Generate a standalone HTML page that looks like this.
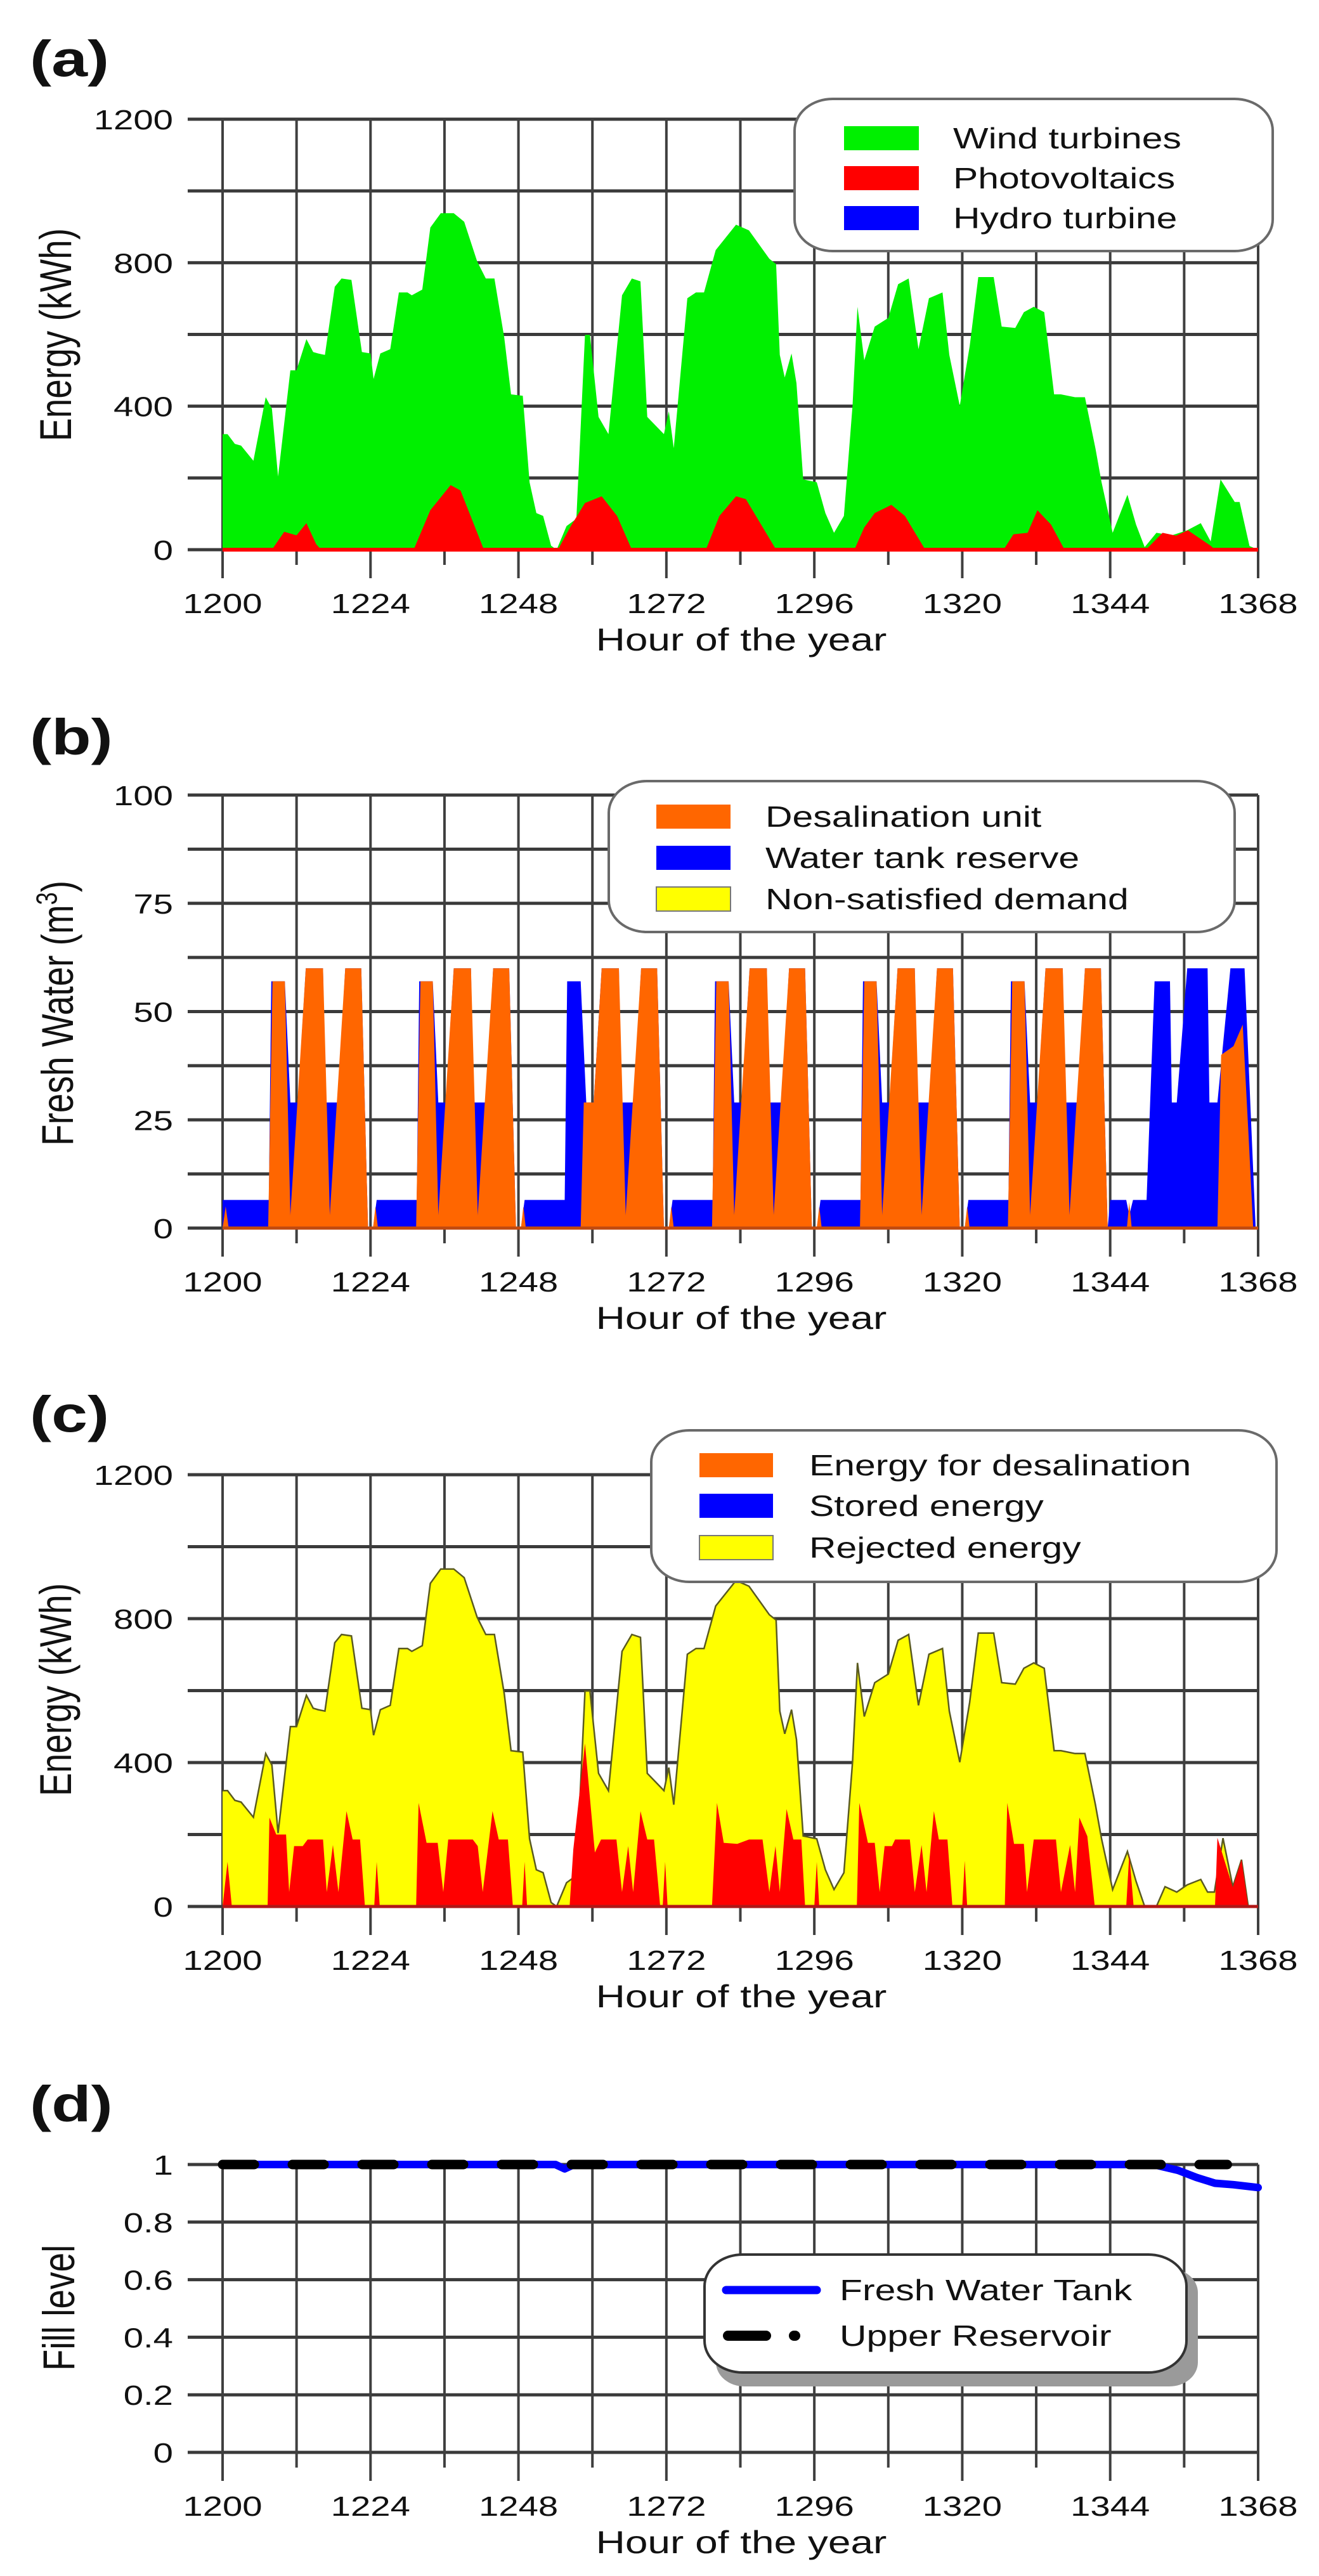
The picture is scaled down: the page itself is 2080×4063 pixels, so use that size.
<!DOCTYPE html>
<html><head><meta charset="utf-8"><title>Energy and water balance</title>
<style>html,body{margin:0;padding:0;background:#fff}svg{display:block}</style></head>
<body>
<svg id="fig" xmlns="http://www.w3.org/2000/svg" width="2080" height="4063" viewBox="0 0 2080 4063" font-family="Liberation Sans, Arial, sans-serif"></svg>
<script>
// ---------- DATA ----------
const tickHours = [1200,1224,1248,1272,1296,1320,1344,1368];
const energyTicks = [0,400,800,1200];
const waterTicks = [0,25,50,75,100];
const fillTicks = [0,0.2,0.4,0.6,0.8,1];
const fillTickLabels = ["0","0.2","0.4","0.6","0.8","1"];

// (a) wind turbines (stack top) and photovoltaics
const windHours = [1200,1200.8,1202,1203,1205,1207,1208,1209,1211,1212,
 1213.6,1214.7,1215.5,1216.6,1218.2,1219.3,1220.9,1222.6,1224,1224.5,
 1225.6,1227.2,1228.6,1230,1230.7,1232.4,1233.7,1235.4,1237.5,1239.2,
 1241.3,1242.7,1244.1,1245.7,1246.8,1248.7,1249.8,1250.9,1252,1253.3,
 1254.2,1255.8,1257.4,1258.8,1259.6,1261,1262.6,1264.8,1266.4,1267.8,
 1268.9,1271.6,1272.4,1273.2,1275.4,1276.8,1278.1,1280,1283.3,1285.4,
 1288.7,1289.8,1290.4,1291.2,1292.3,1293.1,1294.2,1296.4,1297.8,1299.2,
 1300.8,1302.2,1303,1304.1,1305.8,1308,1309.6,1311.3,1312.9,1314.6,
 1316.8,1317.9,1319.6,1321.2,1322.6,1325.1,1326.4,1328.6,1330,1331.6,
 1333.3,1334.9,1336,1338.3,1339.9,1341.6,1342.6,1344.4,1346.8,1348.2,
 1349.6,1351.5,1354,1356.5,1358.7,1360.3,1361.9,1364.2,1365,1366.6,
 1368];
const windValues = [322,322,295,290,248,425,393,204,500,500,
 587,551,547,543,733,756,752,551,547,476,
 547,559,717,717,709,725,898,938,938,914,
 804,756,756,591,433,429,188,102,94,11,
 0,66,86,599,599,370,322,709,756,748,
 370,322,386,283,701,717,717,835,906,890,
 811,796,543,480,547,464,196,188,102,47,
 94,401,677,528,622,646,740,756,559,701,
 717,543,401,567,760,760,622,618,662,677,
 662,433,433,425,425,283,188,47,153,70,
 7,47,40,54,74,23,196,133,133,10,
 0];
const pvHours = [1200,1208,1210,1212,1213.6,1215.2,1216,1231,1233.7,1237,1238.6,1242.4,
 1254.4,1256.5,1258.8,1261.5,1264,1266.4,1278.4,1280.6,1283.3,1284.9,1289.8,
 1302.5,1304.1,1305.8,1308.5,1310.7,1314,1326.7,1328.3,1330.6,1332.2,1334.4,1336.6,
 1349.8,1352.5,1354.7,1356.6,1360.3,1361,1368];
const pvValues = [0,0,50,40,74,15,0,0,110,180,165,0,
 0,66,130,149,94,0,0,94,149,141,0,
 0,62,102,125,94,0,0,43,47,110,70,0,
 0,47,39,54,11,0,0];

// (b) fresh water: total supplied (water tank reserve shows beneath) and desalination
const waterHours = [1200,
 1207.5,1207.9,1210.1,1211,1212.2,1213.5,1216.3,1216.7,1218.7,1219.9,1222.5,1223.6,1224.4,1225,
 1231.5,1231.9,1234.1,1235,1236.2,1237.5,1240.3,1240.7,1242.7,1243.9,1246.5,1247.6,1248.4,1249,
 1255.5,1255.9,1258.1,1259,1260.2,1261.5,1264.3,1264.7,1266.7,1267.9,1270.5,1271.6,1272.4,1273,
 1279.5,1279.9,1282.1,1283,1284.2,1285.5,1288.3,1288.7,1290.7,1291.9,1294.5,1295.6,1296.4,1297,
 1303.5,1303.9,1306.1,1307,1308.2,1309.5,1312.3,1312.7,1314.7,1315.9,1318.5,1319.6,1320.4,1321,
 1327.5,1327.9,1330.1,1331,1332.2,1333.5,1336.3,1336.7,1338.7,1339.9,1342.5,1343.6,1344,1346.6,1347.1,1347.7,
 1349.9,1351.2,1353.7,1354,1354.8,1356.5,1359.8,1360.1,1361.4,1363.5,1365.8,1367.6,1368];
const waterTotal = [6.5,
 6.5,57,57,29,29,60,60,29,29,60,60,0,0,6.5,
 6.5,57,57,29,29,60,60,29,29,60,60,0,0,6.5,
 6.5,57,57,29,29,60,60,29,29,60,60,0,0,6.5,
 6.5,57,57,29,29,60,60,29,29,60,60,0,0,6.5,
 6.5,57,57,29,29,60,60,29,29,60,60,0,0,6.5,
 6.5,57,57,29,29,60,60,29,29,60,60,0,6.5,6.5,3,6.5,
 6.5,57,57,29,29,60,60,29,29,60,60,0,0];
const desalHours = [1200,1200.5,1201,
 1207.4,1208.1,1210.1,1211,1213.5,1216.3,1217.4,1219.9,1222.5,1223.6,1224.4,1224.8,1225.2,
 1231.4,1232.1,1234.1,1235,1237.5,1240.3,1241.4,1243.9,1246.5,1247.6,1248.4,1248.8,1249.2,
 1258.1,1258.6,1260.2,1261.5,1264.3,1265.4,1267.9,1270.5,1271.6,1272.4,1272.8,1273.2,
 1279.4,1280.1,1282.1,1283,1285.5,1288.3,1289.4,1291.9,1294.5,1295.6,1296.4,1296.8,1297.2,
 1303.4,1304.1,1306.1,1307,1309.5,1312.3,1313.4,1315.9,1318.5,1319.6,1320.4,1320.8,1321.2,
 1327.4,1328.1,1330.1,1331,1333.5,1336.3,1337.4,1339.9,1342.5,1343.6,1346.7,1347.1,1347.5,
 1361.4,1362,1364,1365.5,1366.5,1367.2,1368];
const desalWater = [0,5,0,
 0,57,57,3,60,60,3,60,60,0,0,5,0,
 0,57,57,3,60,60,3,60,60,0,0,5,0,
 0,29,29,60,60,3,60,60,0,0,5,0,
 0,57,57,3,60,60,3,60,60,0,0,5,0,
 0,57,57,3,60,60,3,60,60,0,0,5,0,
 0,57,57,3,60,60,3,60,60,0,0,6,0,
 0,40,42,47,20,0,0];

// (c) rejected energy (stack top) and energy for desalination
const rejHours = [1200,1200.8,1202,1203,1205,1207,1208,1209,1211,1212,
 1213.6,1214.7,1215.5,1216.6,1218.2,1219.3,1220.9,1222.6,1224,1224.5,
 1225.6,1227.2,1228.6,1230,1230.7,1232.4,1233.7,1235.4,1237.5,1239.2,
 1241.3,1242.7,1244.1,1245.7,1246.8,1248.7,1249.8,1250.9,1252,1253.3,
 1254.2,1255.8,1257.4,1258.8,1259.6,1261,1262.6,1264.8,1266.4,1267.8,
 1268.9,1271.6,1272.4,1273.2,1275.4,1276.8,1278.1,1280,1283.3,1285.4,
 1288.7,1289.8,1290.4,1291.2,1292.3,1293.1,1294.2,1296.4,1297.8,1299.2,
 1300.8,1302.2,1303,1304.1,1305.8,1308,1309.6,1311.3,1312.9,1314.6,
 1316.8,1317.9,1319.6,1321.2,1322.6,1325.1,1326.4,1328.6,1330,1331.6,
 1333.3,1334.9,1336,1338.3,1339.9,1341.6,1342.6,1344.4,1346.8,1348.2,
 1349.6,1351.5,1352.9,1354.8,1356.5,1358.7,1359.8,1360.9,1362.3,1363.9,
 1365.3,1366.4,1368];
const rejValues = [322,322,295,290,248,425,393,204,500,500,
 587,551,547,543,733,756,752,551,547,476,
 547,559,717,717,709,725,898,938,938,914,
 804,756,756,591,433,429,188,102,94,11,
 0,66,86,599,599,370,322,709,756,748,
 370,322,386,283,701,717,717,835,906,890,
 811,796,543,480,547,464,196,188,102,47,
 94,401,677,528,622,646,740,756,559,701,
 717,543,401,567,760,760,622,618,662,677,
 662,433,433,425,425,283,188,47,153,70,
 0,0,55,40,60,75,40,40,190,55,
 130,0,0];
const deEHours = [1200,1200.8,1201.5,1207.3,1207.6,1208.7,1210.3,1210.8,1211.6,1213,
 1213.8,1216.3,1216.9,1217.9,1218.8,1220.1,1221.1,1222.3,1223.1,1224.6,
 1225,1225.5,1231.4,1231.8,1233.1,1234.9,1235.8,1236.6,1240.6,1241.4,
 1242.2,1243.8,1244.8,1246.3,1247.1,1248.6,1249,1249.4,1256.3,1256.9,
 1258.8,1260.4,1261.4,1263.9,1264.8,1265.8,1266.6,1267.8,1268.9,1270,
 1271,1271.4,1271.8,1272.2,1279.4,1280.2,1281.3,1283.5,1285.4,1287.6,
 1288.7,1289.7,1290.4,1291.5,1292.6,1293.9,1294.5,1296,1296.4,1296.8,
 1302.9,1303.3,1304.7,1305.8,1306.6,1307.4,1308.6,1309.1,1311.5,1312.3,
 1313.4,1314.2,1315.4,1316.2,1317.6,1318.4,1320,1320.4,1320.8,1326.9,
 1327.3,1328.4,1330,1330.5,1331.6,1335.2,1336,1337.5,1338.3,1339,
 1340.3,1341.5,1346.6,1347.1,1347.8,1361,1361.4,1363.9,1365.3,1366.4,
 1368];
const deEValues = [0,124,0,0,247,200,200,40,168,168,
 186,186,40,171,40,265,186,186,0,0,
 124,0,0,288,177,177,40,186,186,168,
 40,265,186,186,0,0,124,0,0,159,
 453,150,186,186,40,168,40,265,186,186,
 0,0,124,0,0,288,177,174,186,186,
 40,168,40,271,186,186,0,0,124,0,
 0,288,177,177,40,168,168,186,186,40,
 171,40,265,186,186,0,0,127,0,0,
 288,174,174,40,186,186,40,171,40,247,
 195,0,0,147,0,0,191,53,130,0,
 0];

// (d) fill levels
const tankHours = [1200,1254,1255.5,1257,1351,1355,1358,1361,1364,1368];
const tankLevel = [1,1,0.985,1,1,0.98,0.955,0.935,0.93,0.92];
const resHours = [1200,1363];
const resLevel = [1,1];

// ---------- DRAWING ----------
const NS = 'http://www.w3.org/2000/svg';
const svg = document.getElementById('fig');
const X0 = 351, X1 = 1984;
function xs(h){ return X0 + (h - 1200) * (X1 - X0) / 168; }
function ysFor(p){ return v => p.bot - v * (p.bot - p.top) / p.ymax; }

function el(tag, attrs, parent){
  const e = document.createElementNS(NS, tag);
  for (const k in attrs) e.setAttribute(k, attrs[k]);
  (parent || svg).appendChild(e);
  return e;
}
function txt(x, y, s, size, anchor, weight, name, parent){
  const t = el('text', {transform:`translate(${x},${y}) scale(1.28,1)`, 'font-size':size, 'text-anchor':anchor||'start', 'font-weight':weight||'normal', fill:'#111'}, parent);
  t.textContent = s;
  
  
  return t;
}
function vtxt(x, y, s, size, name){
  const t = el('text', {transform:`translate(${x},${y}) rotate(-90) scale(1,1.28)`, 'font-size':size, 'text-anchor':'middle', fill:'#111'});
  
  
  return t;
}
function area(hours, vals, ys, fill, name, stroke){
  let d = `M${xs(hours[0])},${ys(0)}`;
  for (let i = 0; i < hours.length; i++) d += ` L${xs(hours[i]).toFixed(1)},${ys(vals[i]).toFixed(1)}`;
  d += ` L${xs(hours[hours.length-1])},${ys(0)} Z`;
  const p = el('path', {d:d, fill:fill, stroke:'none'});
  
  
  if (stroke){
    let d2 = '';
    for (let i = 0; i < hours.length; i++) d2 += (i ? ' L' : 'M') + xs(hours[i]).toFixed(1) + ',' + ys(vals[i]).toFixed(1);
    const o = el('path', {d:d2, fill:'none', stroke:stroke, 'stroke-width':2.5});
    
    
  }
  return p;
}
function line(hours, vals, ys, attrs, name){
  let d = '';
  for (let i = 0; i < hours.length; i++) d += (i ? ' L' : 'M') + xs(hours[i]).toFixed(1) + ',' + ys(vals[i]).toFixed(1);
  attrs.d = d; attrs.fill = 'none';
  const p = el('path', attrs);
  
  
  return p;
}
function axes(p, gridStep, tickVals, tickLabels, key){
  const ys = ysFor(p);
  const g = el('g', {});
  
  
  for (let v = 0; v <= p.ymax + 1e-9; v += gridStep){
    const y = ys(v);
    el('line', {x1:296, x2:X1, y1:y, y2:y, stroke:'#3a3a3a', 'stroke-width':5}, g);
  }
  for (let h = 1200; h <= 1368; h += 12){
    const x = xs(h);
    const lab = (h - 1200) % 24 === 0;
    el('line', {x1:x, x2:x, y1:p.top, y2:p.bot + (lab ? 45 : 24), stroke:'#3f3f3f', 'stroke-width':4}, g);
  }
  for (let i = 0; i < tickVals.length; i++){
    txt(273, ys(tickVals[i]) + 16, tickLabels[i], 44, 'end', 'normal', 'y-tick-label');
  }
  for (let i = 0; i < tickHours.length; i++){
    txt(xs(tickHours[i]), p.bot + 100, String(tickHours[i]), 44, 'middle', 'normal', 'x-tick-label');
  }
  txt(1169, p.bot + 159, 'Hour of the year', 50, 'middle', 'normal', 'x-axis-title');
  return ys;
}
function legendBox(x, y, w, h, name, shadow){
  if (shadow){
    const s = el('rect', {x:x+18, y:y+22, width:w, height:h, rx:45, ry:38, fill:'#9a9a9a'});
    
    
  }
  const r = el('rect', {x:x, y:y, width:w, height:h, rx:60, ry:50, fill:'#fff', stroke: shadow ? '#333' : '#6a6a6a', 'stroke-width':4});
  
  
}
function swatch(x, cy, w, color, name){
  const r = el('rect', {x:x, y:cy-19, width:w, height:38, fill:color, stroke: color === '#ffff00' ? '#777' : 'none', 'stroke-width':2});
  
  
}

const PA = {top:188, bot:867, ymax:1200};
const PB = {top:1254, bot:1937, ymax:100};
const PC = {top:2326, bot:3007, ymax:1200};
const PD = {top:3414, bot:3868, ymax:1};

// ----- Panel (a)
txt(47, 120, '(a)', 80, 'start', 'bold', 'panel-a-label');
let ya = axes(PA, 200, energyTicks, energyTicks.map(String), 'a');
vtxt(112, 528, '', 55, 'y-axis-title-a').textContent = 'Energy (kWh)';
area(windHours, windValues, ya, '#00f000', 'wind-area');
area(pvHours, pvValues, ya, '#ff0000', 'pv-area');
line([1200,1368],[0,0], ya, {stroke:'#ff0000','stroke-width':6}, 'pv-baseline');
legendBox(1253, 156, 754, 240, 'legend-a');
swatch(1331, 218, 118, '#00f000', 'legend-swatch-wind');
txt(1503, 234, 'Wind turbines', 46, 'start', 'normal', 'legend-label-wind');
swatch(1331, 281, 118, '#ff0000', 'legend-swatch-pv');
txt(1503, 297, 'Photovoltaics', 46, 'start', 'normal', 'legend-label-pv');
swatch(1331, 344, 118, '#0000ff', 'legend-swatch-hydro');
txt(1503, 360, 'Hydro turbine', 46, 'start', 'normal', 'legend-label-hydro');

// ----- Panel (b)
txt(47, 1190, '(b)', 80, 'start', 'bold', 'panel-b-label');
let yb = axes(PB, 12.5, waterTicks, waterTicks.map(String), 'b');
const tb = vtxt(115, 1598, '', 55, 'y-axis-title-b');
tb.textContent = 'Fresh Water (m';
const sup = document.createElementNS(NS, 'tspan');
sup.setAttribute('baseline-shift', 'super');
sup.setAttribute('font-size', '36');
sup.textContent = '3';


tb.appendChild(sup);
tb.appendChild(document.createTextNode(')'));
area(waterHours, waterTotal, yb, '#0000ff', 'water-tank-area');
area(desalHours, desalWater, yb, '#ff6600', 'desalination-area');
line([1200,1368],[0,0], yb, {stroke:'#c04a10','stroke-width':5}, 'b-baseline');
legendBox(960, 1232, 987, 238, 'legend-b');
swatch(1035, 1288, 117, '#ff6600', 'legend-swatch-desal');
txt(1207, 1304, 'Desalination unit', 46, 'start', 'normal', 'legend-label-desal');
swatch(1035, 1353, 117, '#0000ff', 'legend-swatch-tank');
txt(1207, 1369, 'Water tank reserve', 46, 'start', 'normal', 'legend-label-tank');
swatch(1035, 1418, 117, '#ffff00', 'legend-swatch-unmet');
txt(1207, 1434, 'Non-satisfied demand', 46, 'start', 'normal', 'legend-label-unmet');

// ----- Panel (c)
txt(47, 2258, '(c)', 80, 'start', 'bold', 'panel-c-label');
let yc = axes(PC, 200, energyTicks, energyTicks.map(String), 'c');
vtxt(112, 2665, '', 55, 'y-axis-title-c').textContent = 'Energy (kWh)';
area(rejHours, rejValues, yc, '#ffff00', 'rejected-energy-area', '#5a5a20');
area(deEHours, deEValues, yc, '#ff0000', 'desal-energy-area');
line([1200,1368],[0,0], yc, {stroke:'#b01818','stroke-width':5}, 'c-baseline');
legendBox(1027, 2256, 986, 239, 'legend-c');
swatch(1103, 2311, 116, '#ff6600', 'legend-swatch-desal-energy');
txt(1276, 2327, 'Energy for desalination', 46, 'start', 'normal', 'legend-label-desal-energy');
swatch(1103, 2375, 116, '#0000ff', 'legend-swatch-stored');
txt(1276, 2391, 'Stored energy', 46, 'start', 'normal', 'legend-label-stored');
swatch(1103, 2441, 116, '#ffff00', 'legend-swatch-rejected');
txt(1276, 2457, 'Rejected energy', 46, 'start', 'normal', 'legend-label-rejected');

// ----- Panel (d)
txt(47, 3346, '(d)', 80, 'start', 'bold', 'panel-d-label');
let yd = axes(PD, 0.2, fillTicks, fillTickLabels, 'd');
vtxt(117, 3640, '', 55, 'y-axis-title-d').textContent = 'Fill level';
line(tankHours, tankLevel, yd, {stroke:'#0000ff','stroke-width':12,'stroke-linejoin':'round','stroke-linecap':'round'}, 'fresh-water-tank-line');
line(resHours, resLevel, yd, {stroke:'#000','stroke-width':15,'stroke-dasharray':'50 60','stroke-linecap':'round'}, 'upper-reservoir-line');
legendBox(1111, 3556, 760, 186, 'legend-d', true);
const l1 = el('line', {x1:1145, x2:1288, y1:3612, y2:3612, stroke:'#0000ff', 'stroke-width':13, 'stroke-linecap':'round'});


txt(1324, 3628, 'Fresh Water Tank', 46, 'start', 'normal', 'legend-label-tank-level');
const l2 = el('line', {x1:1148, x2:1290, y1:3684, y2:3684, stroke:'#000', 'stroke-width':16, 'stroke-linecap':'round', 'stroke-dasharray':'60 44 2 60'});


txt(1324, 3700, 'Upper Reservoir', 46, 'start', 'normal', 'legend-label-reservoir');
</script>
</body></html>
